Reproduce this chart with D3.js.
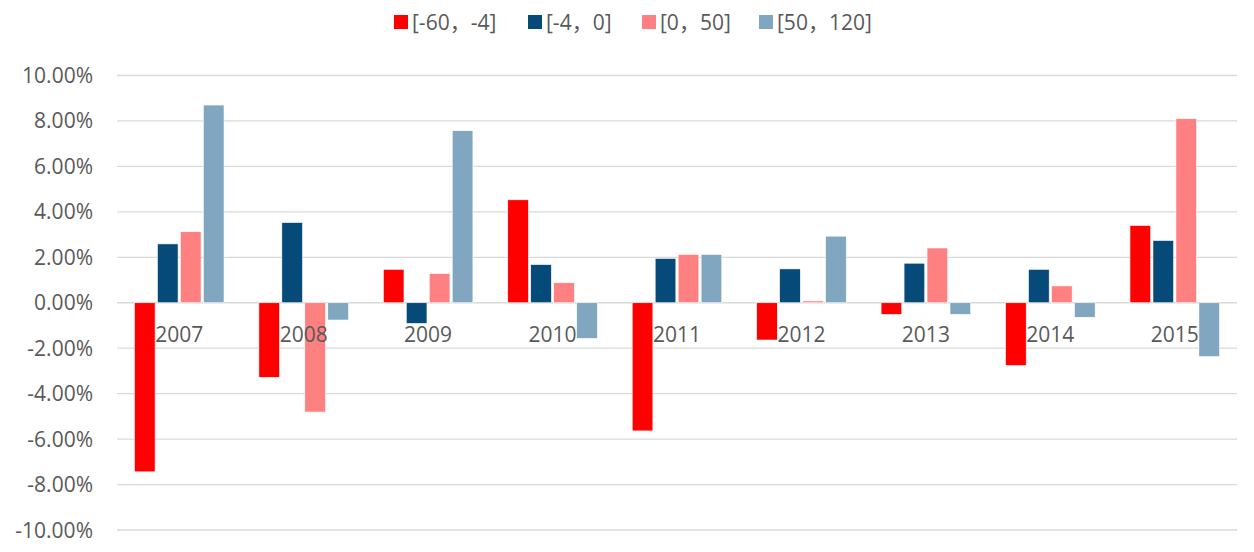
<!DOCTYPE html>
<html lang="zh">
<head>
  <meta charset="UTF-8">
  <title>Chart</title>
  <style>
    body { margin: 0; background: #fff; }
    text { font-family: "Open Sans", "Noto Sans", sans-serif; fill: #595959; }
  </style>
</head>
<body>
<script src="https://d3js.org/d3.v7.min.js"></script>
<div id="chart"></div>
<script>
  var years = ["2007", "2008", "2009", "2010", "2011", "2012", "2013", "2014", "2015"];
  var seriesNames = ["[-60，-4]", "[-4，0]", "[0，50]", "[50，120]"];
  var colors = ["#ff0000", "#064a7a", "#ff8080", "#80a6c0"];
  // values in %
  var s1 = [-7.44, -3.28, 1.47, 4.53, -5.64, -1.64, -0.51, -2.76, 3.40];
  var s2 = [2.59, 3.53, -0.91, 1.68, 1.95, 1.49, 1.74, 1.47, 2.74];
  var s3 = [3.13, -4.81, 1.28, 0.88, 2.13, 0.08, 2.41, 0.74, 8.10];
  var s4 = [8.70, -0.76, 7.57, -1.57, 2.13, 2.93, -0.51, -0.64, -2.37];
  var yTicks = [-10, -8, -6, -4, -2, 0, 2, 4, 6, 8, 10];

  var series = [s1, s2, s3, s4];
  var width = 1254, height = 552;

  var svg = d3.select("#chart")
          .append("svg")
          .attr("width", width)
          .attr("height", height);

  var y = d3.scaleLinear().domain([-10, 10]).range([530, 75.5]);
  var x0 = d3.scaleBand().domain(years).range([117, 1237])
          .paddingInner(0.28).paddingOuter(0.14);
  var x1 = d3.scaleBand().domain(d3.range(4)).range([0, x0.bandwidth()])
          .paddingInner(0.1);

  // gridlines
  svg.append("g")
          .selectAll("line")
          .data(yTicks)
          .join("line")
          .attr("x1", 117)
          .attr("x2", 1237)
          .attr("y1", function(d) { return y(d); })
          .attr("y2", function(d) { return y(d); })
          .attr("stroke", "#d9d9d9")
          .attr("stroke-width", 1.3);

  // y axis labels
  svg.append("g")
          .selectAll("text")
          .data(yTicks)
          .join("text")
          .attr("x", 93)
          .attr("y", function(d) { return y(d) + 7.5; })
          .attr("text-anchor", "end")
          .style("font-size", "21px")
          .text(function(d) { return d.toFixed(2) + "%"; });

  // bars
  var groups = svg.append("g")
          .selectAll("g")
          .data(years)
          .join("g")
          .attr("transform", function(d) { return "translate(" + x0(d) + ",0)"; });

  groups.selectAll("rect")
          .data(function(d, i) { return series.map(function(s, k) { return {k: k, v: s[i]}; }); })
          .join("rect")
          .attr("x", function(d) { return x1(d.k); })
          .attr("width", x1.bandwidth())
          .attr("y", function(d) { return y(Math.max(0, d.v)); })
          .attr("height", function(d) { return Math.abs(y(d.v) - y(0)); })
          .attr("fill", function(d) { return colors[d.k]; })
          .attr("stroke", "#fff")
          .attr("stroke-width", 0.6);

  // category labels
  svg.append("g")
          .selectAll("text")
          .data(years)
          .join("text")
          .attr("x", function(d) { return x0(d) + x0.bandwidth() / 2; })
          .attr("y", 342)
          .attr("text-anchor", "middle")
          .style("font-size", "21px")
          .text(function(d) { return d; });

  // legend
  var legendX = [394, 528, 642, 759];
  var legend = svg.append("g")
          .selectAll("g")
          .data(seriesNames)
          .join("g")
          .attr("transform", function(d, i) { return "translate(" + legendX[i] + ",15)"; });

  legend.append("rect")
          .attr("width", 14)
          .attr("height", 14)
          .attr("fill", function(d, i) { return colors[i]; });

  legend.append("text")
          .attr("x", 18)
          .attr("y", 15)
          .style("font-size", "21px")
          .style("font-family", "'Open Sans', 'Noto Sans CJK SC', sans-serif")
          .text(function(d) { return d; });
</script>
</body>
</html>
